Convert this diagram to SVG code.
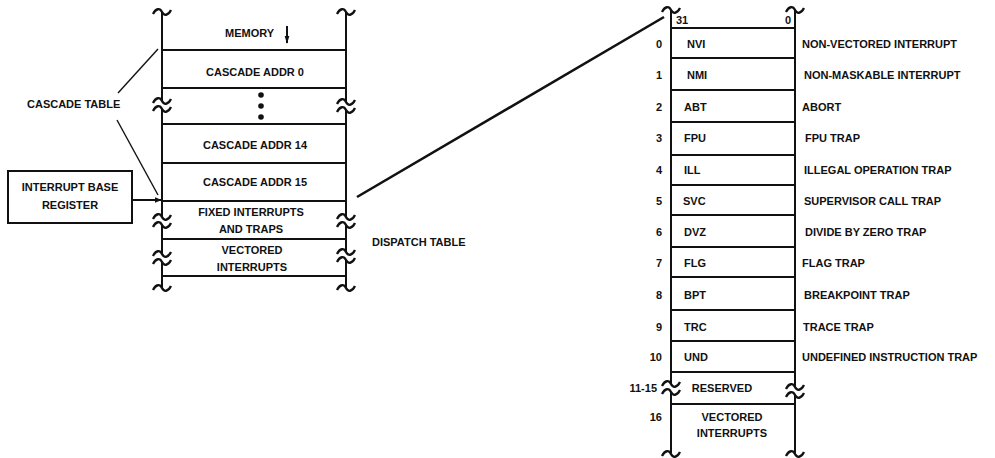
<svg xmlns="http://www.w3.org/2000/svg" xmlns:xlink="http://www.w3.org/1999/xlink" width="995" height="458" viewBox="0 0 995 458">
<style>
text{font-family:"Liberation Sans",Arial,sans-serif;font-weight:bold;font-size:11px;fill:#111}
.m{text-anchor:middle}
.e{text-anchor:end}
.ln{stroke:#111;stroke-width:2;fill:none}
.tn{stroke:#111;stroke-width:1.4;fill:none}
</style>
<defs>
<path id="tl" d="M-9,2 C-6,-4 -2,-4 0,0 S6,4 9,-2" stroke="#111" stroke-width="2.3" fill="none"/>
<g id="brk"><use xlink:href="#tl" y="-4"/><use xlink:href="#tl" y="4"/></g>
<marker id="ah" viewBox="0 0 10 10" refX="9" refY="5" markerWidth="7" markerHeight="7" orient="auto" markerUnits="userSpaceOnUse"><path d="M0,1 L10,5 L0,9 Z" fill="#111"/></marker>
<marker id="ah2" viewBox="0 0 10 10" refX="9" refY="5" markerWidth="8" markerHeight="10" orient="auto" markerUnits="userSpaceOnUse"><path d="M0,2 L10,5 L0,8 Z" fill="#111"/></marker>
</defs>
<rect width="995" height="458" fill="#fff"/>

<!-- LEFT MEMORY TABLE -->
<g id="memory-frame">
<path class="ln" d="M162,12 V101 M162,109 V217 M162,225 V254 M162,262 V288"/>
<path class="ln" d="M346,12 V102 M346,110 V217 M346,225 V252 M346,260 V288"/>
<use xlink:href="#tl" x="162" y="12"/><use xlink:href="#tl" x="346" y="12"/>
<use xlink:href="#brk" x="162" y="105"/><use xlink:href="#brk" x="346" y="106"/>
<use xlink:href="#brk" x="162" y="221"/><use xlink:href="#brk" x="346" y="221"/>
<use xlink:href="#brk" x="162" y="258"/><use xlink:href="#brk" x="346" y="256"/>
<use xlink:href="#tl" x="162" y="288"/><use xlink:href="#tl" x="346" y="288"/>
<path class="ln" d="M162,50 H346 M162,88 H346 M162,124 H346 M162,163 H346 M162,201 H346 M162,239 H346 M162,276 H346"/>
</g>
<g id="memory-label">
<text x="225" y="37">MEMORY</text>
<line x1="287" y1="26" x2="287" y2="43" class="ln" marker-end="url(#ah2)"/>
</g>
<g id="cascade-addr-0"><text class="m" x="255" y="76">CASCADE ADDR 0</text></g>
<g id="cascade-dots"><circle cx="261" cy="95" r="2.8" fill="#111"/><circle cx="261" cy="106" r="2.8" fill="#111"/><circle cx="261" cy="117" r="2.8" fill="#111"/></g>
<g id="cascade-addr-14"><text class="m" x="255" y="149">CASCADE ADDR 14</text></g>
<g id="cascade-addr-15"><text class="m" x="255" y="186">CASCADE ADDR 15</text></g>
<g id="fixed-interrupts"><text class="m" x="251" y="216">FIXED INTERRUPTS</text><text class="m" x="251" y="233">AND TRAPS</text></g>
<g id="vectored-interrupts-left"><text class="m" x="252" y="254">VECTORED</text><text class="m" x="252" y="271">INTERRUPTS</text></g>

<g id="cascade-table-label"><text x="27" y="108">CASCADE TABLE</text></g>
<g id="interrupt-base-register">
<rect x="8" y="171" width="124" height="52" class="ln"/>
<text class="m" x="70" y="191">INTERRUPT BASE</text>
<text class="m" x="70" y="209">REGISTER</text>
</g>
<g id="dispatch-table-label"><text x="372" y="246">DISPATCH TABLE</text></g>

<!-- RIGHT DISPATCH TABLE -->
<g id="dispatch-frame">
<path class="ln" d="M671,10 V384 M671,392 V453"/>
<path class="ln" d="M795,10 V387 M795,395 V453"/>
<use xlink:href="#tl" x="671" y="10"/><use xlink:href="#tl" x="795" y="10"/>
<use xlink:href="#brk" x="671" y="388"/><use xlink:href="#brk" x="795" y="391"/>
<use xlink:href="#tl" x="671" y="454"/><use xlink:href="#tl" x="795" y="454"/>
<path class="ln" d="M671,28 H795 M671,58 H795 M671,90 H795 M671,122 H795 M671,155 H795 M671,185 H795 M671,215 H795 M671,247 H795 M671,277 H795 M671,310 H795 M671,341 H795 M671,372 H795 M671,404 H795"/>
<text x="676" y="24">31</text><text x="785" y="24">0</text>
</g>
<g id="row-0"><text class="e" x="662" y="48">0</text><text x="687" y="48">NVI</text><text x="802" y="48">NON-VECTORED INTERRUPT</text></g>
<g id="row-1"><text class="e" x="662" y="79">1</text><text x="687" y="79">NMI</text><text x="804" y="79">NON-MASKABLE INTERRUPT</text></g>
<g id="row-2"><text class="e" x="662" y="111">2</text><text x="684" y="111">ABT</text><text x="802" y="111">ABORT</text></g>
<g id="row-3"><text class="e" x="662" y="142">3</text><text x="684" y="142">FPU</text><text x="805" y="142">FPU TRAP</text></g>
<g id="row-4"><text class="e" x="662" y="174">4</text><text x="684" y="174">ILL</text><text x="804" y="174">ILLEGAL OPERATION TRAP</text></g>
<g id="row-5"><text class="e" x="662" y="205">5</text><text x="683" y="205">SVC</text><text x="804" y="205">SUPERVISOR CALL TRAP</text></g>
<g id="row-6"><text class="e" x="662" y="236">6</text><text x="684" y="236">DVZ</text><text x="805" y="236">DIVIDE BY ZERO TRAP</text></g>
<g id="row-7"><text class="e" x="662" y="267">7</text><text x="684" y="267">FLG</text><text x="802" y="267">FLAG TRAP</text></g>
<g id="row-8"><text class="e" x="662" y="299">8</text><text x="684" y="299">BPT</text><text x="804" y="299">BREAKPOINT TRAP</text></g>
<g id="row-9"><text class="e" x="662" y="331">9</text><text x="684" y="331">TRC</text><text x="803" y="331">TRACE TRAP</text></g>
<g id="row-10"><text class="e" x="662" y="361">10</text><text x="684" y="361">UND</text><text x="802" y="361">UNDEFINED INSTRUCTION TRAP</text></g>
<g id="row-11-15"><text class="e" x="657" y="392">11-15</text><text class="m" x="722" y="392">RESERVED</text></g>
<g id="row-16"><text class="e" x="662" y="421">16</text><text class="m" x="732" y="421">VECTORED</text><text class="m" x="732" y="437">INTERRUPTS</text></g>

<!-- CONNECTORS -->
<g id="connectors">
<line x1="118" y1="93" x2="158" y2="49" class="tn"/>
<line x1="117" y1="120" x2="158" y2="195" class="tn"/>
<line x1="132" y1="200" x2="161" y2="200" class="ln" marker-end="url(#ah)"/>
<line x1="357" y1="197" x2="664" y2="17" stroke="#111" stroke-width="2.6"/>
</g>
</svg>
